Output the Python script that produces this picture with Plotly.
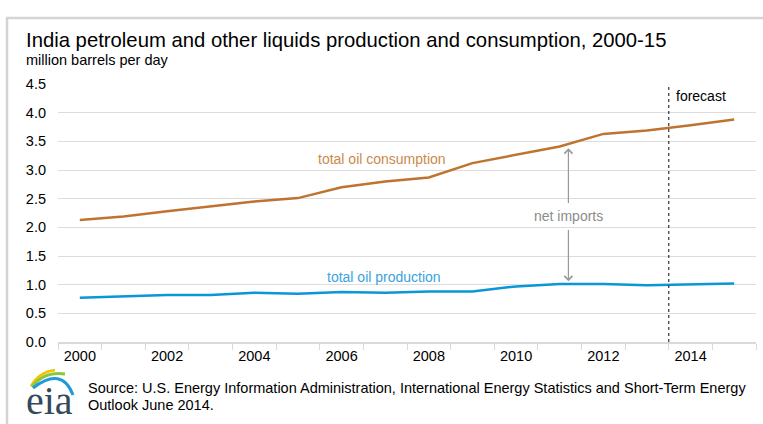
import plotly.graph_objects as go

years = list(range(2000, 2016))
consumption = [2.13, 2.19, 2.28, 2.37, 2.45, 2.51, 2.70, 2.80, 2.87, 3.12, 3.27, 3.41, 3.63, 3.69, 3.78, 3.88]
production = [0.77, 0.79, 0.82, 0.82, 0.86, 0.84, 0.87, 0.86, 0.88, 0.88, 0.97, 1.01, 1.01, 0.99, 1.00, 1.02]
x_ticks = [2000, 2002, 2004, 2006, 2008, 2010, 2012, 2014]
y_ticks = [0, 0.5, 1, 1.5, 2, 2.5, 3, 3.5, 4, 4.5]
forecast_start = 2013.5
arrow_year = 2011.2

W, H = 763, 424
L, R, T, B = 58, 7, 84, 82
PW, PH = W - L - R, H - T - B

def px(x):
    return (x - L) / PW

def py(y):
    return (H - B - y) / PH

C_CONS = "#BE742F"
C_CONS_T = "#C98A4B"
C_PROD = "#0A96D8"
C_PROD_T = "#3AA3DC"
FONT = "Liberation Sans, Arial, sans-serif"

fig = go.Figure()
fig.add_trace(go.Scatter(x=years, y=consumption, mode="lines",
                         line=dict(color=C_CONS, width=2.5), hoverinfo="skip"))
fig.add_trace(go.Scatter(x=years, y=production, mode="lines",
                         line=dict(color=C_PROD, width=2.5), hoverinfo="skip"))

shapes = []
# forecast line
shapes.append(dict(type="line", xref="x", yref="paper", x0=forecast_start, x1=forecast_start,
                   y0=0, y1=py(85), line=dict(color="#333333", width=1.2, dash="dot")))
# frame border
shapes.append(dict(type="line", xref="paper", yref="paper", x0=px(7), x1=px(7), y0=py(18), y1=py(430),
                   line=dict(color="#D4D4D4", width=2.5)))
shapes.append(dict(type="line", xref="paper", yref="paper", x0=px(6), x1=px(770), y0=py(18), y1=py(18),
                   line=dict(color="#D4D4D4", width=2.5)))

# eia logo swooshes
def path(points):
    (x0, y0), (cx, cy), (x1, y1) = points
    return f"M {px(x0)},{py(y0)} Q {px(cx)},{py(cy)} {px(x1)},{py(y1)}"

shapes.append(dict(type="path", xref="paper", yref="paper", path=path([(31, 386), (39, 372), (55, 370)]),
                   line=dict(color="#F2C400", width=2.5)))
shapes.append(dict(type="path", xref="paper", yref="paper", path=path([(32, 387), (44, 371), (65, 374)]),
                   line=dict(color="#8CC63F", width=3)))
shapes.append(dict(type="path", xref="paper", yref="paper", path=path([(33, 388), (62, 366), (73, 395)]),
                   line=dict(color="#1E9AD6", width=3)))

annotations = []
annotations.append(dict(x=px(24), y=py(40), xref="paper", yref="paper", xanchor="left", yanchor="middle",
                        text="India petroleum and other liquids production and consumption, 2000-15",
                        showarrow=False, font=dict(family=FONT, size=20.3, color="#000000")))
annotations.append(dict(x=px(24), y=py(60), xref="paper", yref="paper", xanchor="left", yanchor="middle",
                        text="million barrels per day",
                        showarrow=False, font=dict(family=FONT, size=14.5, color="#000000")))
annotations.append(dict(x=2006.93, y=3.2, xref="x", yref="y", xanchor="center", yanchor="middle",
                        text="total oil consumption", showarrow=False,
                        font=dict(family=FONT, size=14, color=C_CONS_T)))
annotations.append(dict(x=2006.97, y=1.14, xref="x", yref="y", xanchor="center", yanchor="middle",
                        text="total oil production", showarrow=False,
                        font=dict(family=FONT, size=14, color=C_PROD_T)))
annotations.append(dict(x=arrow_year, y=2.19, xref="x", yref="y", xanchor="center", yanchor="middle",
                        text="net imports", showarrow=False,
                        font=dict(family=FONT, size=14, color="#8C8C8C")))
annotations.append(dict(x=2013.62, y=py(96), xref="x", yref="paper", xanchor="left", yanchor="middle",
                        text="forecast", showarrow=False,
                        font=dict(family=FONT, size=14, color="#000000")))
# arrows
annotations.append(dict(x=arrow_year, y=3.38, ax=arrow_year, ay=2.4, xref="x", yref="y", axref="x", ayref="y",
                        text="", showarrow=True, arrowhead=4, arrowsize=1.3, arrowwidth=1.2, arrowcolor="#999999"))
annotations.append(dict(x=arrow_year, y=1.06, ax=arrow_year, ay=1.98, xref="x", yref="y", axref="x", ayref="y",
                        text="", showarrow=True, arrowhead=4, arrowsize=1.3, arrowwidth=1.2, arrowcolor="#999999"))
# logo text
annotations.append(dict(x=px(24), y=py(400), xref="paper", yref="paper", xanchor="left", yanchor="middle",
                        text="eia", showarrow=False,
                        font=dict(family="Liberation Serif, Times New Roman, serif", size=40, color="#34495C")))
annotations.append(dict(x=px(86), y=py(388), xref="paper", yref="paper", xanchor="left", yanchor="middle",
                        text="Source: U.S. Energy Information Administration, International Energy Statistics and Short-Term Energy",
                        showarrow=False, font=dict(family=FONT, size=14.5, color="#000000")))
annotations.append(dict(x=px(86), y=py(405), xref="paper", yref="paper", xanchor="left", yanchor="middle",
                        text="Outlook June 2014.",
                        showarrow=False, font=dict(family=FONT, size=14.5, color="#000000")))

fig.update_layout(
    width=W, height=H,
    margin=dict(l=L, r=R, t=T, b=B, pad=0),
    paper_bgcolor="white", plot_bgcolor="white",
    showlegend=False,
    shapes=shapes, annotations=annotations,
    xaxis=dict(range=[1999.5, 2015.5], tickmode="array", tickvals=x_ticks,
               ticktext=[str(v) for v in x_ticks], ticks="", showgrid=False,
               showline=True, linecolor="#D9D9D9", linewidth=1.5,
               tickfont=dict(family=FONT, size=14.5, color="#000000"),
               minor=dict(tickmode="linear", tick0=1999.5, dtick=1, ticks="outside", ticklen=6,
                          tickcolor="#D9D9D9", showgrid=False),
               zeroline=False, fixedrange=True),
    yaxis=dict(range=[0, 4.5], tickmode="array", tickvals=y_ticks,
               ticktext=[f"{v:.1f}" for v in y_ticks], showgrid=True, gridcolor="#DCDCDC",
               gridwidth=1.2, zeroline=False, showline=False, ticks="",
               ticklabelstandoff=11,
               tickfont=dict(family=FONT, size=14.5, color="#000000"), fixedrange=True),
)

fig.write_html("out.html", config={"displayModeBar": False},
               post_script="document.body.style.margin='0';")
